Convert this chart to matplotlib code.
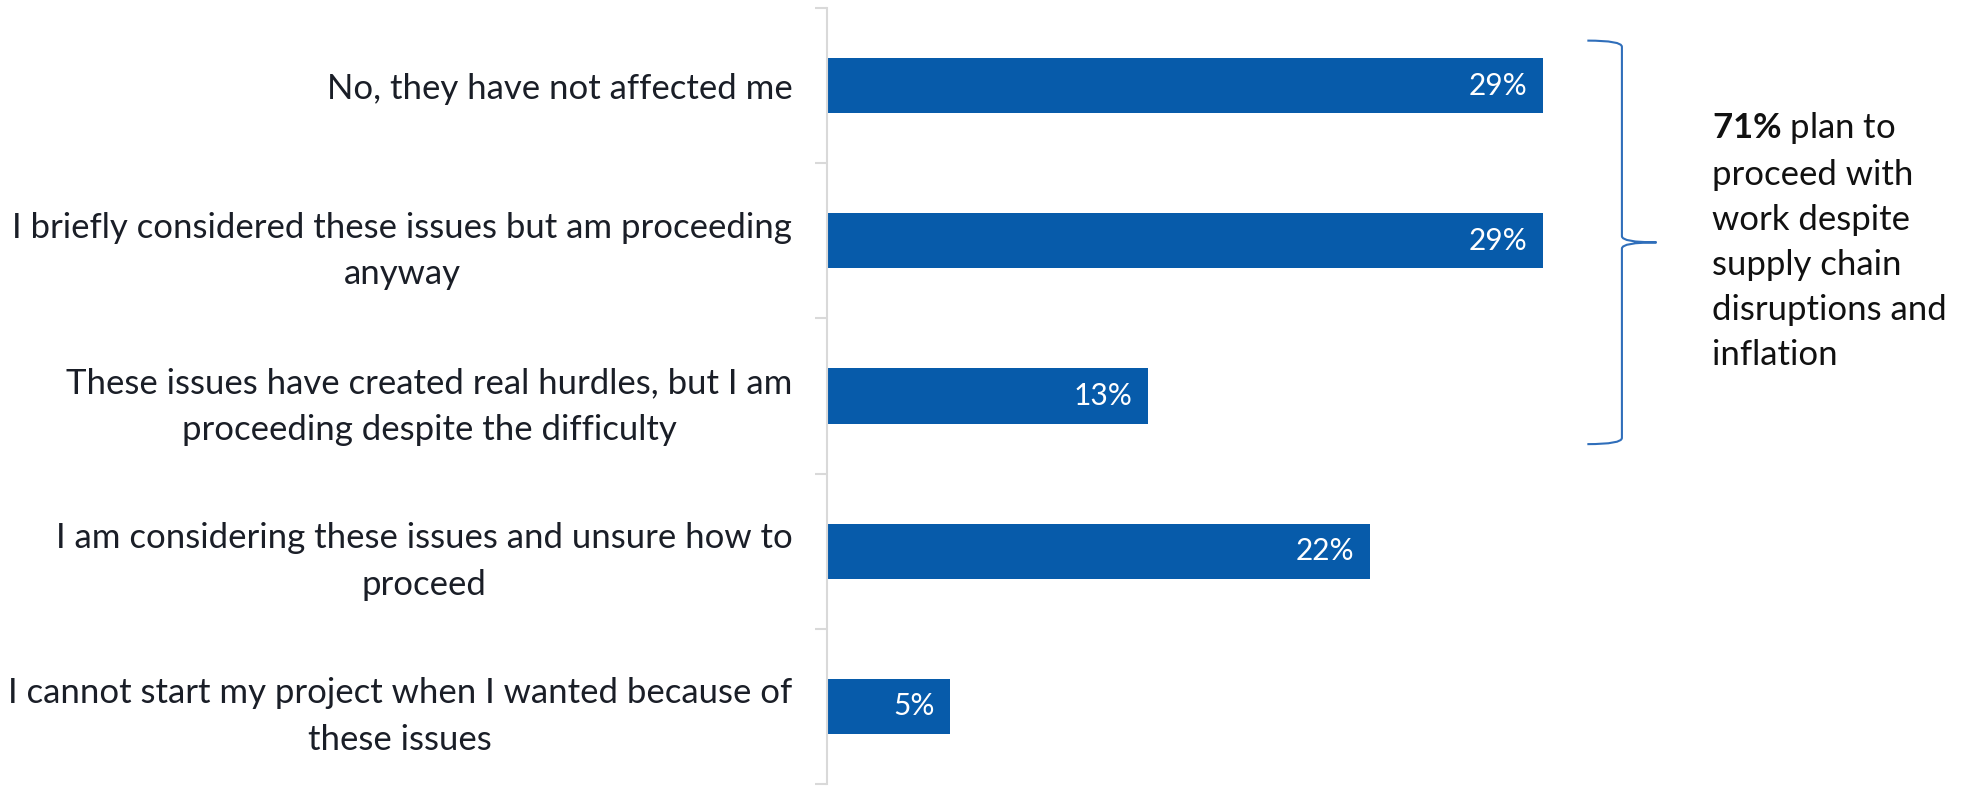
import numpy as np
import matplotlib.pyplot as plt
from matplotlib.path import Path
from matplotlib.patches import PathPatch

plt.rcParams['font.family'] = ['Lato', 'DejaVu Sans']
plt.rcParams['mathtext.fontset'] = 'custom'
plt.rcParams['mathtext.rm'] = 'Lato'
plt.rcParams['mathtext.bf'] = 'Lato:bold'

answers = [
    "No, they have not affected me",
    "I briefly considered these issues but am proceeding\nanyway",
    "These issues have created real hurdles, but I am\nproceeding despite the difficulty",
    "I am considering these issues and unsure how to\nproceed",
    "I cannot start my project when I wanted because of\nthese issues",
]
shares = [29, 29, 13, 22, 5]
proceeding_total = 71
note = "$\\mathbf{71\\%}$ plan to\nproceed with\nwork despite\nsupply chain\ndisruptions and\ninflation"

bar_color = '#075BAA'
grid_gray = '#D9D9D9'
text_color = '#1A1E27'

fig = plt.figure(figsize=(19.64, 7.86), dpi=100)
ax = fig.add_axes([0.4211, 0.0025, 0.3645, 0.9873])

y = np.arange(len(answers))
ax.barh(y, shares, height=0.355, color=bar_color)

for i, v in enumerate(shares):
    ax.annotate(f"{v}%", xy=(v, i), xytext=(-11.5, 0), textcoords='offset points',
                ha='right', va='center', color='white', fontsize=21.5)

ax.set_xlim(0, 29)
ax.set_ylim(len(answers) - 0.5, -0.5)

ax.set_yticks(y)
ax.set_yticklabels(answers, fontsize=25, color=text_color, linespacing=1.56,
                   ha='right', ma='center')
ax.tick_params(axis='y', which='major', length=0, pad=25)
ax.set_yticks(np.arange(-0.5, len(answers), 1), minor=True)
ax.tick_params(axis='y', which='minor', length=8.6, width=1.5, color=grid_gray)

for side in ['top', 'right', 'bottom']:
    ax.spines[side].set_visible(False)
ax.spines['left'].set_color(grid_gray)
ax.spines['left'].set_linewidth(1.5)
ax.xaxis.set_visible(False)

# curly brace grouping the three "proceeding" answers
x_end, x_mid, x_tip = 30.8, 32.2, 33.6
y_top, y_bot = -0.29, 2.31
y_c = (y_top + y_bot) / 2
r = 0.04
verts = [
    (x_end, y_top), (x_mid, y_top), (x_mid, y_top + r),
    (x_mid, y_c - r), (x_mid, y_c), (x_tip, y_c),
    (x_mid, y_c), (x_mid, y_c + r),
    (x_mid, y_bot - r), (x_mid, y_bot), (x_end, y_bot),
]
codes = [
    Path.MOVETO, Path.CURVE3, Path.CURVE3,
    Path.LINETO, Path.CURVE3, Path.CURVE3,
    Path.CURVE3, Path.CURVE3,
    Path.LINETO, Path.CURVE3, Path.CURVE3,
]
ax.add_patch(PathPatch(Path(verts, codes), facecolor='none', edgecolor='#2F6EBA',
                       lw=1.5, clip_on=False))

fig.text(1712 / 1964, 1 - 110 / 786, note, fontsize=25, color='#111111',
         ha='left', va='top', linespacing=1.5)

fig.savefig('out.png', dpi=100)
